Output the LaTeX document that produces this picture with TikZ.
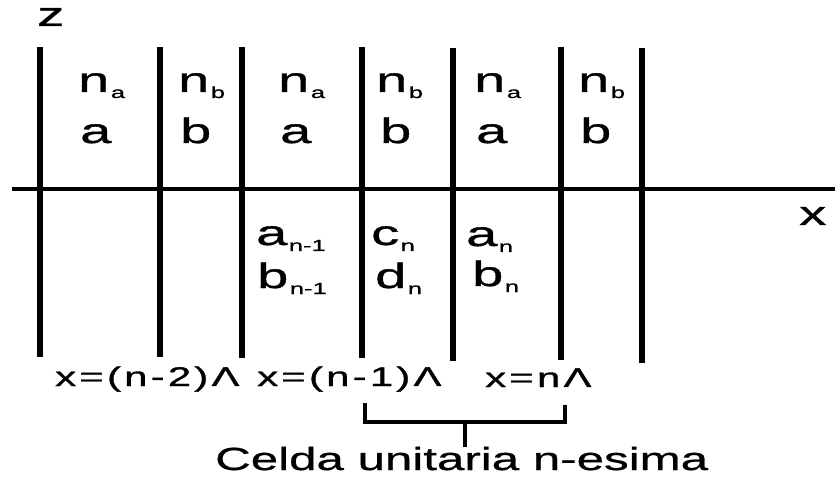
\documentclass[tikz,border=0pt]{standalone}
\usepackage{fontspec}
\setmainfont{Liberation Sans}[FakeStretch=1.6,FakeBold=1]
\newfontfamily\spacedfont{Liberation Sans}[FakeStretch=1.55,LetterSpace=12,FakeBold=1.2]
\newfontfamily\celdafont{Liberation Sans}[FakeStretch=1.54,FakeBold=0.8]
\usetikzlibrary{positioning}

\newcommand{\lsub}[1]{\kern1.5pt\raisebox{-6pt}{\fontsize{16}{16}\selectfont #1}}

\begin{document}
\begin{tikzpicture}[x=1pt, y=-1pt,
    wall/.style={line width=6pt},
    axis/.style={line width=3.5pt},
    brace/.style={line width=4pt},
    lbl/.style={anchor=base west, inner sep=0pt, font=\fontsize{35}{35}\selectfont},
    axlbl/.style={lbl, text height=0.55em, font=\fontsize{34}{34}\selectfont},
    poslbl/.style={anchor=base west, inner sep=0pt, font=\spacedfont\fontsize{27}{27}\selectfont}
]
\useasboundingbox (0,0) rectangle (835,478);

% axis and layer walls
\draw[axis] (12,189) -- (835,189);
\draw[wall] (40,47) -- (40,357);
\draw[wall] (160,47) -- (160,357);
\draw[wall] (242,47) -- (242,358);
\draw[wall] (362,47) -- (362,358);
\draw[wall] (453,48) -- (453,361);
\draw[wall] (561,47) -- (561,360);
\draw[wall] (642,48) -- (642,363);

\node[axlbl] (zlab) at (37,26) {z};
\node[axlbl] (xlab) at (799,225) {x};

% upper half: index and thickness of each layer
\node[lbl] (na1) at (78,92) {n\lsub{a}};
\node[lbl] (a1) at (80,143) {a};
\node[lbl] (nb1) at (178,92) {n\lsub{b}};
\node[lbl] (b1) at (180,143) {b};
\node[lbl] (na2) at (278,92) {n\lsub{a}};
\node[lbl] (a2) at (280,143) {a};
\node[lbl] (nb2) at (376,92) {n\lsub{b}};
\node[lbl] (b2) at (380,143) {b};
\node[lbl] (na3) at (474,92) {n\lsub{a}};
\node[lbl] (a3) at (476,143) {a};
\node[lbl] (nb3) at (578,92) {n\lsub{b}};
\node[lbl] (b3) at (580,143) {b};

% lower half: field amplitudes
\node[lbl] (anm) at (256,245) {a\lsub{n-1}};
\node[lbl] (bnm) at (257,288) {b\lsub{n-1}};
\node[lbl] (cn) at (371,245) {c\lsub{n}};
\node[lbl] (dn) at (375,288) {d\lsub{n}};
\node[lbl] (an) at (466,246) {a\lsub{n}};
\node[lbl] (bn) at (472,286) {b\lsub{n}};

% cell positions
\node[poslbl] (xnm2) at (55,386) {x=(n-2)Λ};
\node[poslbl] (xnm1) at (257,386) {x=(n-1)Λ};
\node[poslbl] (xn) at (485,387) {x=nΛ};

\node[anchor=base west, inner sep=0pt, font=\celdafont\fontsize{32}{32}\selectfont] (celda) at (215,470) {Celda unitaria n-esima};

\coordinate (cellL) at (365,403);
\coordinate (cellR) at (565,405);
\coordinate (cellmid) at (465,422);
\draw[brace] (cellL) -- (cellL |- cellmid) -- (cellR |- cellmid) -- (cellR);
\draw[brace] (cellmid) -- (cellmid |- celda.north);
\end{tikzpicture}
\end{document}
